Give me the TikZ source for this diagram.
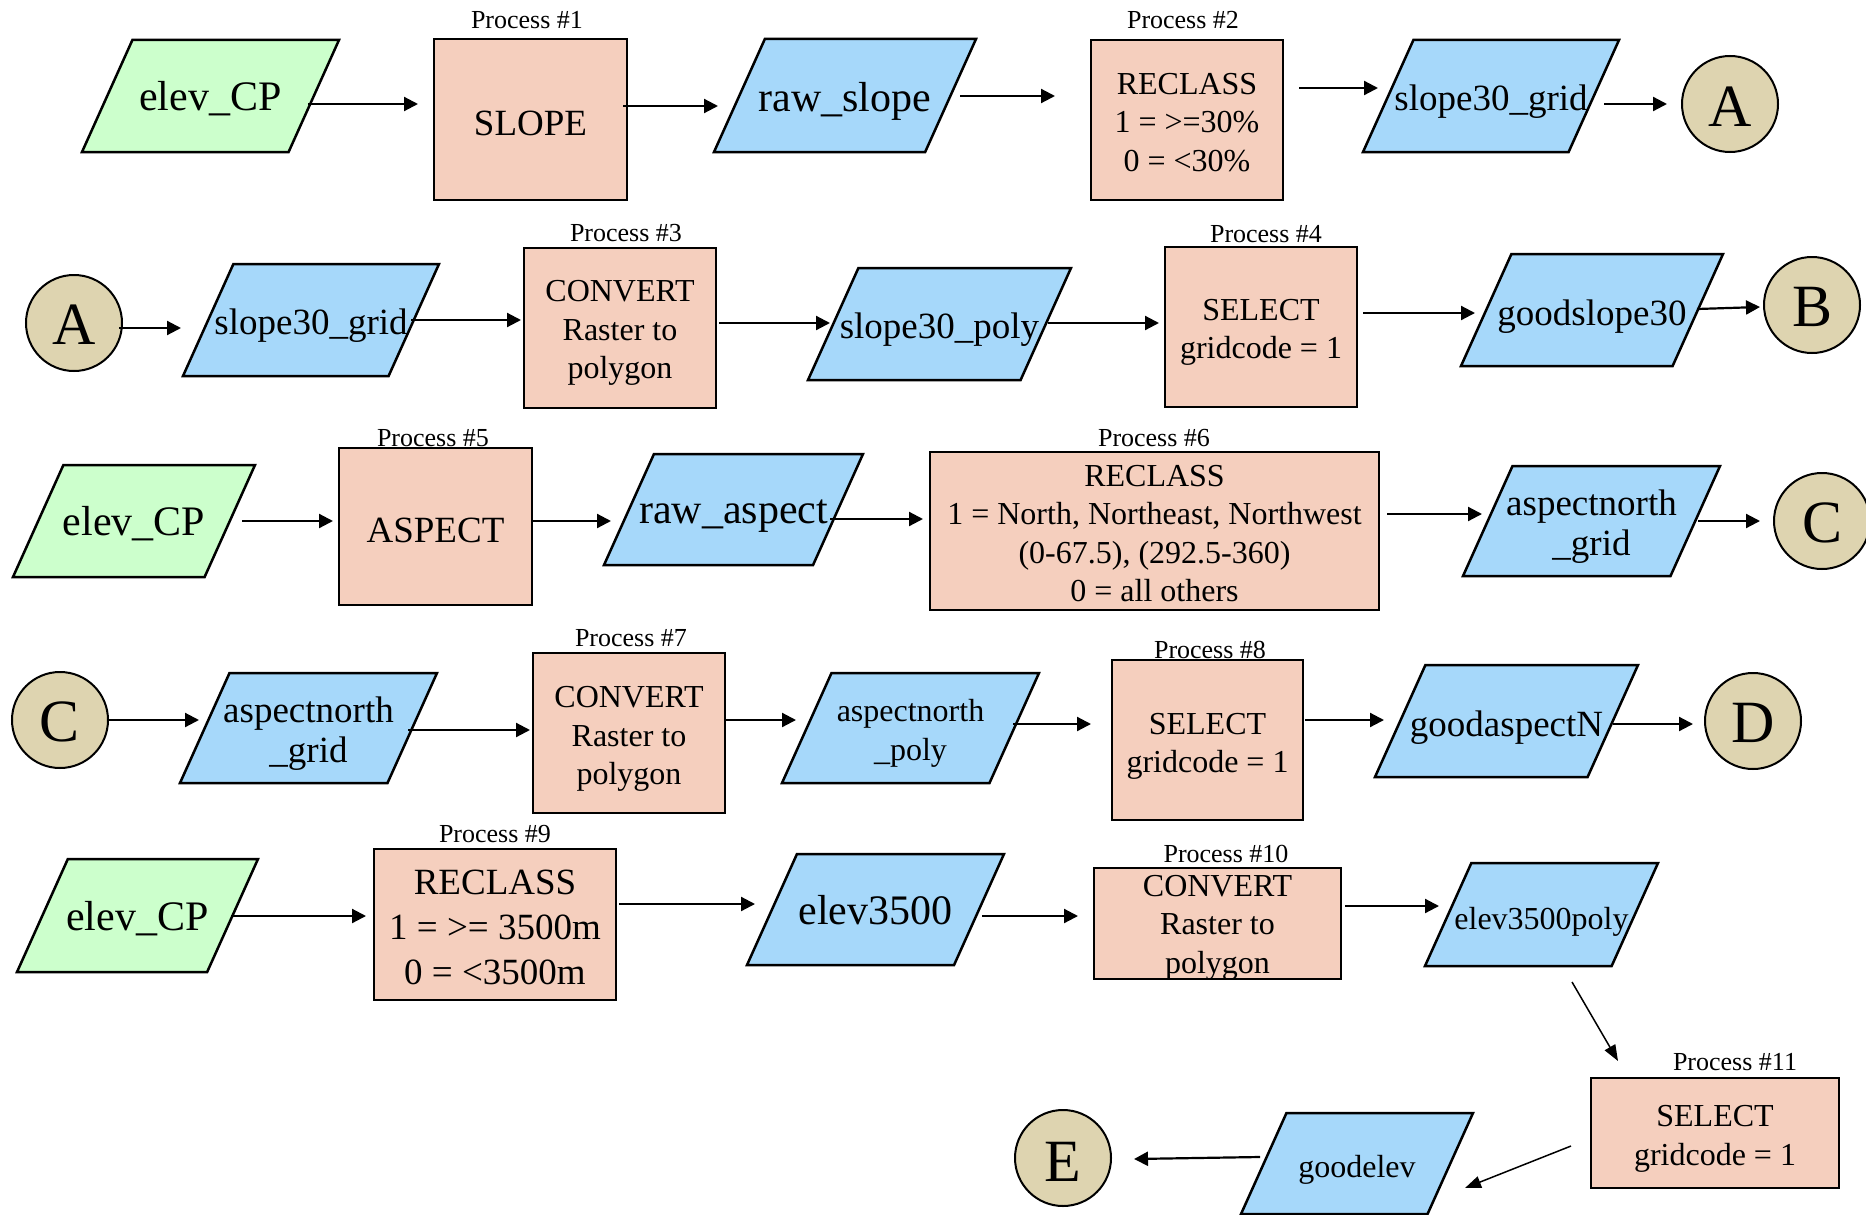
\documentclass[tikz,border=0pt]{standalone}
\usepackage{fontspec}
\setmainfont{Liberation Serif}
\usetikzlibrary{arrows.meta}
\definecolor{greenF}{RGB}{204,255,204}
\definecolor{blueF}{RGB}{166,216,250}
\definecolor{boxF}{RGB}{245,207,190}
\definecolor{circF}{RGB}{222,212,176}
% data parallelogram: name, L, T, R, B, fill, font style, text, text shift
\newcommand\datanode[9]{%
  \pgfmathsetmacro\dsk{0.45*(#5-#3)}%
  \pgfmathsetmacro\dcx{(#2+#4)/2}%
  \pgfmathsetmacro\dcy{(#3+#5)/2}%
  \pgfmathsetmacro\dww{#4-#2}%
  \pgfmathsetmacro\dhh{#5-#3}%
  \draw[dshape, fill=#6] (#2+\dsk,#3) -- (#4,#3) -- (#4-\dsk,#5) -- (#2,#5) -- cycle;
  \node[dtext, minimum width=\dww pt, minimum height=\dhh pt] (#1) at (\dcx,\dcy) {};
  \node[dtext, #7] (#1t) at (\dcx,\dcy+#9) {#8};
}
% process box: name, cx, cy, w, h, font style, text shift, text
\newcommand\procnode[8]{%
  \node[procbox, minimum width=#4pt, minimum height=#5pt] (#1) at (#2,#3) {};
  \node[dtext, #6] (#1t) at (#2,#3+#7) {#8};
}
% connector circle: name, x, y, letter, text shift
\newcommand\connode[5]{%
  \node[conn] (#1) at (#2,#3) {};
  \node[dtext, font=\fontsize{60}{70}\selectfont] (#1t) at (#2,#3+#5) {#4};
}
\tikzset{
  dshape/.style={draw=black, line width=2.5pt, line join=miter},
  dtext/.style={inner sep=0pt, outer sep=0pt, align=center},
  procbox/.style={draw=black, line width=2.5pt, fill=boxF, inner sep=0pt, outer sep=0pt},
  conn/.style={circle, draw=black, line width=2pt, fill=circF, minimum size=96pt, inner sep=0pt, outer sep=0pt},
  plabel/.style={inner sep=0pt, font=\fontsize{26}{31}\selectfont},
  arr/.style={line width=2.2pt, -{Triangle[length=14pt,width=14pt]}},
  thinarr/.style={line width=1.5pt, -{Triangle[length=16pt,width=12pt]}},
  f32/.style={font=\fontsize{32}{38.5}\selectfont},
  f32p/.style={font=\fontsize{32}{39}\selectfont},
  f37/.style={font=\fontsize{37}{45}\selectfont},
  f37p/.style={font=\fontsize{37}{40}\selectfont},
  f42/.style={font=\fontsize{42}{50}\selectfont},
}
\begin{document}
\begin{tikzpicture}[x=1pt,y=-1pt]
\useasboundingbox (0,0) rectangle (1866,1215);
% ---------- Row 1
\datanode{elev1}{82}{40}{339}{152}{greenF}{f42}{elev\_CP}{2.5}
\procnode{slope1}{530.5}{119.5}{193}{161}{f37}{3.5}{SLOPE}
\datanode{rawslope}{714}{39}{976}{152}{blueF}{f42}{raw\_slope}{6}
\procnode{recl1}{1187}{120}{192}{160}{f32}{2.5}{RECLASS\\1 = >=30\%\\0 = <30\%}
\datanode{sg1}{1363}{40}{1619}{152}{blueF}{f37}{slope30\_grid}{6}
\connode{A1}{1730}{104}{A}{2.5}
\node[plabel] (p1) at (527,20) {Process \#1};
\node[plabel] (p2) at (1183,20) {Process \#2};
% ---------- Row 2
\connode{A2}{74}{323}{A}{1.5}
\datanode{sg2}{183}{264}{439}{376}{blueF}{f37}{slope30\_grid}{6}
\procnode{conv3}{620}{328}{192}{160}{f32}{5}{CONVERT\\Raster to\\polygon}
\datanode{spoly}{808}{268}{1071}{380}{blueF}{f37}{slope30\_poly}{6}
\procnode{sel4}{1261}{327}{192}{160}{f32}{5.5}{SELECT\\gridcode = 1}
\datanode{gs30}{1461}{254}{1723}{366}{blueF}{f37}{goodslope30}{7}
\connode{B}{1812}{305}{B}{2}
\node[plabel] (p3) at (626,233) {Process \#3};
\node[plabel] (p4) at (1266,234) {Process \#4};
% ---------- Row 3
\datanode{elev3}{13}{465}{255}{577}{greenF}{f42}{elev\_CP}{2.5}
\procnode{asp5}{435.5}{526.5}{193}{157}{f37}{3.5}{ASPECT}
\datanode{rawasp}{604}{454}{863}{565}{blueF}{f42}{raw\_aspect}{7}
\procnode{recl6}{1154.5}{531}{449}{158}{f32}{2.5}{RECLASS\\1 = North, Northeast, Northwest\\(0-67.5), (292.5-360)\\0 = all others}
\datanode{an3}{1463}{466}{1720}{576}{blueF}{f37p}{aspectnorth\\\_grid}{6}
\connode{C1}{1822}{521}{C}{2}
\node[plabel] (p5) at (433,438) {Process \#5};
\node[plabel] (p6) at (1154,438) {Process \#6};
% ---------- Row 4
\connode{C2}{60}{720}{C}{2}
\datanode{an4}{180}{673}{437}{783}{blueF}{f37p}{aspectnorth\\\_grid}{5.5}
\procnode{conv7}{629}{733}{192}{160}{f32}{6}{CONVERT\\Raster to\\polygon}
\datanode{anpoly}{782}{673}{1039}{783}{blueF}{f32p}{aspectnorth\\\_poly}{5.5}
\procnode{sel8}{1207.5}{740}{191}{160}{f32}{6.5}{SELECT\\gridcode = 1}
\datanode{gaN}{1375}{665}{1638}{777}{blueF}{f37}{goodaspectN}{7}
\connode{D}{1753}{721}{D}{2}
\node[plabel] (p7) at (631,638) {Process \#7};
\node[plabel] (p8) at (1210,650) {Process \#8};
% ---------- Row 5
\datanode{elev5}{17}{859}{258}{972}{greenF}{f42}{elev\_CP}{3.5}
\procnode{recl9}{495}{924.5}{242}{151}{f37}{2.5}{RECLASS\\1 = >= 3500m\\0 = <3500m}
\datanode{e3500}{747}{854}{1004}{965}{blueF}{f42}{elev3500}{1}
\procnode{conv10}{1217.5}{923.5}{247}{111}{f32}{4}{CONVERT\\Raster to\\polygon}
\datanode{e3500p}{1425}{863}{1658}{966}{blueF}{f32}{elev3500poly}{7}
\procnode{sel11}{1715}{1133}{248}{110}{f32}{6}{SELECT\\gridcode = 1}
\datanode{gelev}{1241}{1113}{1473}{1214}{blueF}{f32}{goodelev}{6}
\connode{E}{1063}{1158}{E}{3.5}
\node[plabel] (p9) at (495,834) {Process \#9};
\node[plabel] (p10) at (1226,854) {Process \#10};
\node[plabel] (p11) at (1735,1062) {Process \#11};
% ---------- Connectors
\draw[arr] ([shift={(-31,8)}]elev1.east) -- ([shift={(-16,-15.5)}]slope1.west);
\draw[arr] ([shift={(-4,-13.5)}]slope1.east) -- ([shift={(4,10.5)}]rawslope.west);
\draw[arr] ([shift={(-16,0.5)}]rawslope.east) -- ([shift={(-36,-24)}]recl1.west);
\draw[arr] ([shift={(16,-32)}]recl1.east) -- ([shift={(15,-8)}]sg1.west);
\draw[arr] ([shift={(-15,8)}]sg1.east) -- ([shift={(-15,0)}]A1.west);
\draw[arr] ([shift={(-3,5)}]A2.east) -- ([shift={(-2,8)}]sg2.west);
\draw[arr] ([shift={(-28,0)}]sg2.east) -- ([shift={(-3,-8)}]conv3.west);
\draw[arr] ([shift={(3,-5)}]conv3.east) -- ([shift={(22,-1)}]spoly.west);
\draw[arr] ([shift={(-23,-1)}]spoly.east) -- ([shift={(-6,-4)}]sel4.west);
\draw[arr] ([shift={(6,-14)}]sel4.east) -- ([shift={(14,3)}]gs30.west);
\draw[arr] ([shift={(-26,-1)}]gs30.east) -- ([shift={(-4,2)}]B.west);
\draw[arr] ([shift={(-13,0)}]elev3.east) -- ([shift={(-6,-5.5)}]asp5.west);
\draw[arr] ([shift={(1,-5.5)}]asp5.east) -- ([shift={(7,11.5)}]rawasp.west);
\draw[arr] ([shift={(-33,9.5)}]rawasp.east) -- ([shift={(-7,-12)}]recl6.west);
\draw[arr] ([shift={(8,-17)}]recl6.east) -- ([shift={(19,-7)}]an3.west);
\draw[arr] ([shift={(-22,0)}]an3.east) -- ([shift={(-14,0)}]C1.west);
\draw[arr] (C2.east) -- ([shift={(19,-8)}]an4.west);
\draw[arr] ([shift={(-29,2)}]an4.east) -- ([shift={(-3,-3)}]conv7.west);
\draw[arr] ([shift={(1,-13)}]conv7.east) -- ([shift={(14,-8)}]anpoly.west);
\draw[arr] ([shift={(-26,-4)}]anpoly.east) -- ([shift={(-21,-16)}]sel8.west);
\draw[arr] ([shift={(2,-20)}]sel8.east) -- ([shift={(9,-1)}]gaN.west);
\draw[arr] ([shift={(-25,3)}]gaN.east) -- ([shift={(-12,3)}]D.west);
\draw[arr] ([shift={(-27,0.5)}]elev5.east) -- ([shift={(-8,-8.5)}]recl9.west);
\draw[arr] ([shift={(3,-20.5)}]recl9.east) -- ([shift={(8,-5.5)}]e3500.west);
\draw[arr] ([shift={(-22,6.5)}]e3500.east) -- ([shift={(-16,-7.5)}]conv10.west);
\draw[arr] ([shift={(4,-17.5)}]conv10.east) -- ([shift={(14,-8.5)}]e3500p.west);
\draw[thinarr] ([shift={(30.5,16)}]e3500p.south) -- ([shift={(-97,-17)}]sel11.north);
\draw[thinarr] ([shift={(-20,13)}]sel11.west) -- ([shift={(-8,24.5)}]gelev.east);
\draw[arr] ([shift={(19,-6.5)}]gelev.west) -- ([shift={(23,1)}]E.east);
\end{tikzpicture}
\end{document}
